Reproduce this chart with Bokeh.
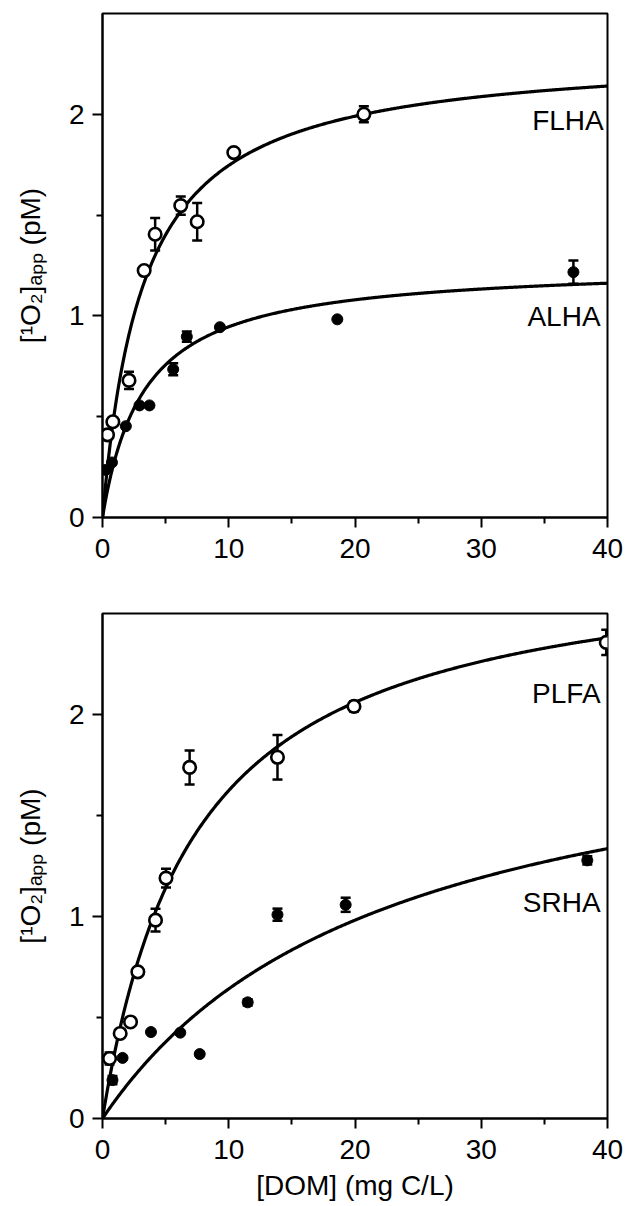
import numpy as np
from bokeh.plotting import figure
from bokeh.layouts import column
from bokeh.models import Range1d, FixedTicker, ColumnDataSource, Whisker, TeeHead
from bokeh.core.properties import value
from bokeh.embed import file_html
from bokeh.resources import INLINE

# ---------------- data ----------------
x_ticks = [0, 10, 20, 30, 40]
x_minor = [5, 15, 25, 35]
y_ticks = [0, 1, 2]
y_minor = [0.5, 1.5]

flha_x = [0.4, 0.82, 2.1, 3.3, 4.17, 6.2, 7.5, 10.4, 20.7]
flha_y = [0.41, 0.475, 0.68, 1.225, 1.405, 1.547, 1.467, 1.81, 2.0]
flha_err = [0.0, 0.0, 0.043, 0.02, 0.08, 0.045, 0.093, 0.0, 0.04]

alha_x = [0.25, 0.75, 1.85, 2.93, 3.72, 5.6, 6.68, 9.3, 18.6, 37.3]
alha_y = [0.236, 0.273, 0.453, 0.556, 0.556, 0.735, 0.897, 0.944, 0.983, 1.217]
alha_err = [0.0, 0.0, 0.0, 0.0, 0.0, 0.03, 0.025, 0.0, 0.0, 0.058]

plfa_x = [0.56, 1.4, 2.22, 2.8, 4.2, 5.03, 6.9, 13.86, 19.92, 39.9]
plfa_y = [0.297, 0.421, 0.478, 0.726, 0.982, 1.19, 1.738, 1.788, 2.04, 2.357]
plfa_err = [0.03, 0.0, 0.0, 0.0, 0.056, 0.047, 0.084, 0.11, 0.025, 0.062]

srha_x = [0.79, 1.59, 3.84, 6.16, 7.7, 11.5, 13.86, 19.26, 38.4]
srha_y = [0.19, 0.30, 0.428, 0.425, 0.319, 0.575, 1.009, 1.058, 1.278]
srha_err = [0.02, 0.0, 0.0, 0.0, 0.0, 0.015, 0.03, 0.035, 0.02]

# hyperbolic fits y = a*x/(K+x): [a, K]
flha_fit = [2.314, 3.25]
alha_fit = [1.258, 3.3]
plfa_fit = [2.817, 7.35]
srha_fit = [2.089, 22.55]

top_labels = ["FLHA", "ALHA"]
top_label_x = [39.7, 39.45]
top_label_y = [1.97, 0.995]
bot_labels = ["PLFA", "SRHA"]
bot_label_x = [39.45, 39.45]
bot_label_y = [2.106, 1.071]

y_title = "[\u00b9O\u2082]\u2090\u209a\u209a (pM)"
x_title = "[DOM] (mg C/L)"

FONT = "Liberation Sans"
FS = "28px"


def make_fig(height, border_top, border_bottom, xlabel):
    p = figure(width=628, height=height, output_backend="svg", toolbar_location=None,
               x_range=Range1d(0, 40), y_range=Range1d(0, 2.5),
               min_border_left=102, min_border_right=21,
               min_border_top=border_top, min_border_bottom=border_bottom)
    p.xgrid.visible = False
    p.ygrid.visible = False
    p.outline_line_color = "black"
    p.outline_line_width = 2
    p.outline_line_alpha = 1
    p.xaxis.ticker = FixedTicker(ticks=x_ticks, minor_ticks=x_minor)
    p.yaxis.ticker = FixedTicker(ticks=y_ticks, minor_ticks=y_minor)
    for ax in (p.xaxis, p.yaxis):
        ax.axis_line_width = 2
        ax.axis_line_color = "black"
        ax.major_tick_line_width = 2
        ax.minor_tick_line_width = 2
        ax.major_tick_line_color = "black"
        ax.minor_tick_line_color = "black"
        ax.major_tick_in = 0
        ax.minor_tick_in = 0
        ax.major_tick_out = 10
        ax.minor_tick_out = 6
        ax.major_label_text_font = FONT
        ax.major_label_text_font_size = FS
        ax.major_label_text_color = "black"
        ax.axis_label_text_font = FONT
        ax.axis_label_text_font_size = FS
        ax.axis_label_text_font_style = "normal"
        ax.axis_label_text_color = "black"
    p.xaxis.major_label_standoff = 11
    p.yaxis.major_label_standoff = 8
    p.yaxis.axis_label = y_title
    p.yaxis.axis_label_standoff = 20
    if xlabel:
        p.xaxis.axis_label = xlabel
        p.xaxis.axis_label_standoff = 8
    return p


def add_series(p, xs, ys, errs, fit, filled):
    xx = np.linspace(0, 40, 500)
    a, k = fit
    p.line(xx, a * xx / (k + xx), line_color="black", line_width=3.2)
    ex = [x for x, e in zip(xs, errs) if e > 0]
    lo = [y - e for y, e in zip(ys, errs) if e > 0]
    hi = [y + e for y, e in zip(ys, errs) if e > 0]
    src = ColumnDataSource(dict(x=ex, lo=lo, hi=hi))
    w = Whisker(source=src, base="x", lower="lo", upper="hi", line_width=2.5, line_color="black",
                upper_head=TeeHead(size=10, line_width=2.5, line_color="black"),
                lower_head=TeeHead(size=10, line_width=2.5, line_color="black"))
    p.add_layout(w)
    if filled:
        p.scatter(xs, ys, size=11, fill_color="black", line_color="black", line_width=1)
    else:
        p.scatter(xs, ys, size=12.5, fill_color="white", line_color="black", line_width=2.6)


top = make_fig(588, 13, 71, None)
add_series(top, flha_x, flha_y, flha_err, flha_fit, False)
add_series(top, alha_x, alha_y, alha_err, alha_fit, True)
top.text(top_label_x, top_label_y, text=top_labels, text_align="right", text_baseline="middle",
         text_font=value(FONT), text_font_size=FS, text_color="black")

bot = make_fig(618, 25, 88, x_title)
add_series(bot, plfa_x, plfa_y, plfa_err, plfa_fit, False)
add_series(bot, srha_x, srha_y, srha_err, srha_fit, True)
bot.text(bot_label_x, bot_label_y, text=bot_labels, text_align="right", text_baseline="middle",
         text_font=value(FONT), text_font_size=FS, text_color="black")

layout = column(top, bot, spacing=0)
open("out.html", "w").write(file_html(layout, INLINE))
